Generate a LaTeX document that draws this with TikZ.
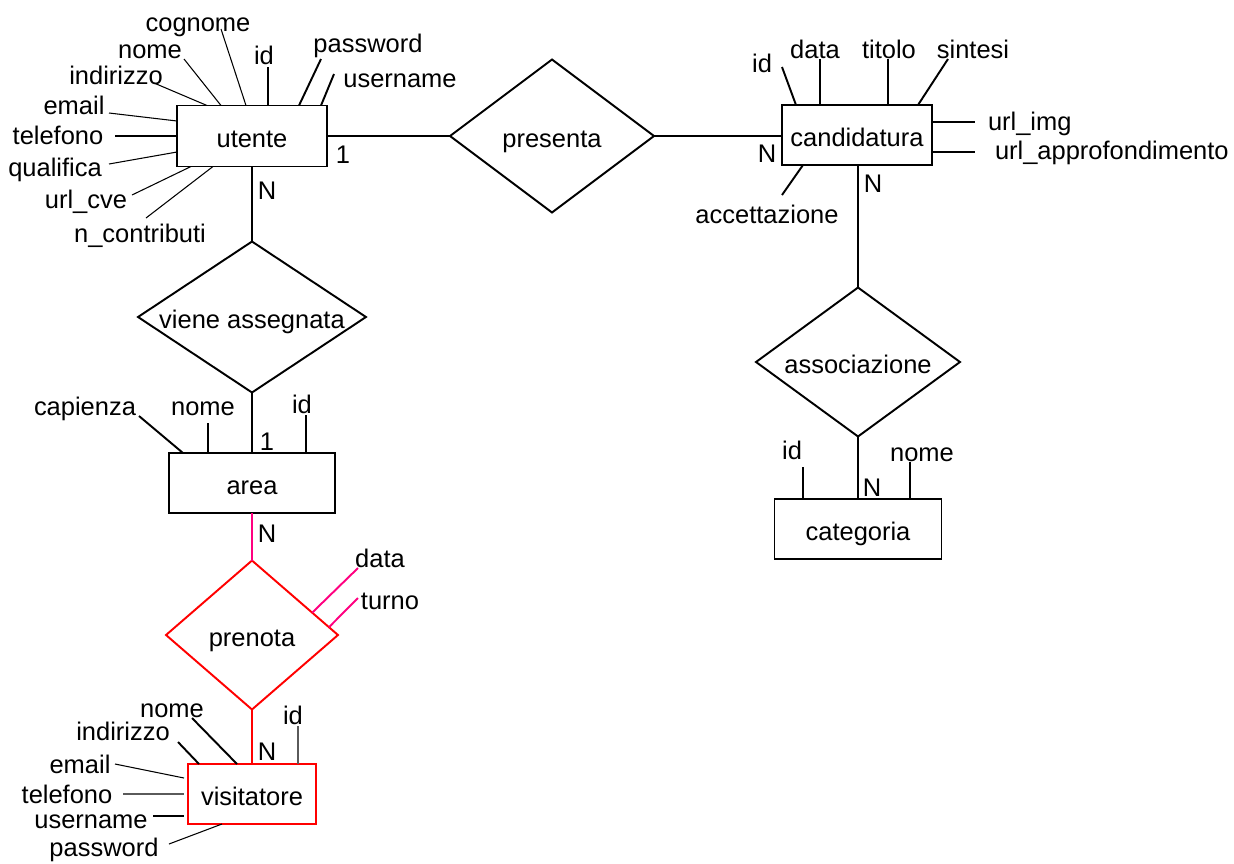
\documentclass[tikz,border=0pt]{standalone}
\usepackage{fontspec}
\setmainfont{Liberation Sans}
\usetikzlibrary{shapes.geometric,calc}
\definecolor{pinkline}{RGB}{255,0,128}
\definecolor{greyline}{RGB}{90,90,90}

\begin{document}
\begin{tikzpicture}[x=0.02cm,y=-0.02cm,
  font=\fontsize{14.5}{17}\selectfont,
  every node/.style={inner sep=0pt,outer sep=0pt,text height=14pt,text depth=1pt},
  entity/.style={draw,line width=1.1pt,rectangle,minimum height=1.2cm},
  relation/.style={draw,line width=1.1pt,diamond,aspect=1.37,minimum width=4.08cm,minimum height=3cm},
  link/.style={line width=1.1pt},
  attr/.style={line width=0.6pt},
  attrb/.style={line width=1.1pt}]
\useasboundingbox (0,0) rectangle (1234,863);

% entita'
\node[entity,minimum width=3cm,minimum height=1.22cm] (utente) at (252,136) {utente};
\node[entity,minimum width=3cm] (candidatura) at (857,135) {candidatura};
\node[entity,minimum width=3.32cm] (area) at (252,483) {area};
\node[entity,minimum width=3.34cm] (categoria) at (858,529) {categoria};
\node[entity,draw=red,line width=1.4pt,minimum width=2.56cm] (visitatore) at (252,794) {visitatore};

% relazioni
\node[relation,minimum height=3.06cm] (presenta) at (552,136) {presenta};
\node[relation,aspect=1.51,minimum width=4.56cm,minimum height=3.02cm] (viene) at (252,317) {viene assegnata};
\node[relation,minimum height=2.98cm] (associazione) at (858,362) {associazione};
\node[relation,draw=red,aspect=1.15,minimum width=3.44cm,minimum height=2.98cm] (prenota) at (252,635) {prenota};

% collegamenti
\draw[link] (utente.east) -- (presenta.west);
\draw[link] (presenta.east) -- (presenta.east -| candidatura.west);
\draw[link] (utente.south) -- (viene.north);
\draw[link] (viene.south) -- (area.north);
\draw[link] (candidatura.south -| associazione.north) -- (associazione.north);
\draw[link] (associazione.south) -- (categoria.north);
\draw[link,pinkline] (area.south) -- (prenota.north);
\draw[link,red,line width=1.4pt] (prenota.south) -- (visitatore.north);

% cardinalita'
\node (card1) at (343,152) {1};
\node (card2) at (767,151) {N};
\node (card3) at (267,188) {N};
\node (card4) at (267,439) {1};
\node (card5) at (873,181) {N};
\node (card6) at (872,485) {N};
\node (card7) at (267,531) {N};
\node (card8) at (267,749) {N};

% attributi utente
\node (u-cognome) at (198,20) {cognome};
\node (u-nome) at (150,47) {nome};
\node (u-indirizzo) at (116,73) {indirizzo};
\node (u-email) at (74,103) {email};
\node (u-telefono) at (58,133) {telefono};
\node (u-qualifica) at (55,165) {qualifica};
\node (u-urlcve) at (86,197) {url\_cve};
\node (u-ncontributi) at (140,231) {n\_contributi};
\node (u-id) at (264,53) {id};
\node (u-password) at (368,41) {password};
\node (u-username) at (400,76) {username};
\draw[attr] (221,29) -- (246,0 |- utente.north);
\draw[attr] (184,59) -- (221,0 |- utente.north);
\draw[attr] (154,83) -- (207,0 |- utente.north);
\draw[attr] (109,113) -- (utente.west |- 0,121);
\draw[attr] (115,136) -- (utente.west |- 0,136);
\draw[attr] (109,164) -- (utente.west |- 0,152);
\draw[attr] (132,195) -- (191,0 |- utente.south);
\draw[attr] (146,218) -- (213,0 |- utente.south);
\draw[attr,line width=0.8pt] (268,67) -- (268,0 |- utente.north);
\draw[attrb] (321,59) -- (299,0 |- utente.north);
\draw[attrb] (334,74) -- (321,0 |- utente.north);

% attributi candidatura
\node (c-id) at (762,61) {id};
\node (c-data) at (815,47) {data};
\node (c-titolo) at (889,47) {titolo};
\node (c-sintesi) at (973,47) {sintesi};
\node[anchor=west] (c-urlimg) at (988,119) {url\_img};
\node[anchor=west] (c-urlapp) at (995,148) {url\_approfondimento};
\node (c-accettazione) at (767,212) {accettazione};
\draw[attrb] (782,67) -- (796,0 |- candidatura.north);
\draw[attrb] (820,59) -- (820,0 |- candidatura.north);
\draw[attrb] (888,59) -- (888,0 |- candidatura.north);
\draw[attrb] (948,59) -- (918,0 |- candidatura.north);
\draw[attrb] (candidatura.east |- 0,122) -- (975,122);
\draw[attrb] (candidatura.east |- 0,152) -- (975,152);
\draw[attrb] (782,195) -- (803,0 |- candidatura.south);

% attributi area
\node (a-capienza) at (85,404) {capienza};
\node (a-nome) at (203,404) {nome};
\node (a-id) at (302,402) {id};
\draw[attrb] (139,416) -- (183,0 |- area.north);
\draw[attrb] (208,423) -- (208,0 |- area.north);
\draw[attrb] (306,415) -- (306,0 |- area.north);

% attributi categoria
\node (k-id) at (792,448) {id};
\node (k-nome) at (922,450) {nome};
\draw[attrb] (803,467) -- (803,0 |- categoria.north);
\draw[attrb] (910,462) -- (910,0 |- categoria.north);

% attributi prenota
\node (p-data) at (380,556) {data};
\node (p-turno) at (390,598) {turno};
\draw[attrb,pinkline] ($(prenota.north)!0.7!(prenota.east)$) -- (358,568);
\draw[attrb,pinkline] ($(prenota.north)!0.895!(prenota.east)$) -- (358,598);

% attributi visitatore
\node (v-nome) at (172,706) {nome};
\node (v-indirizzo) at (123,729) {indirizzo};
\node (v-email) at (80,762) {email};
\node (v-telefono) at (67,792) {telefono};
\node (v-username) at (91,817) {username};
\node (v-password) at (104,845) {password};
\node (v-id) at (293,713) {id};
\draw[attrb] (192,718) -- (237,0 |- visitatore.north);
\draw[attrb] (178,742) -- (199,0 |- visitatore.north);
\draw[attr] (115,764) -- (184,778);
\draw[attr,greyline] (123,794) -- (184,794);
\draw[attr] (153,816) -- (184,816);
\draw[attr] (169,844) -- (222,0 |- visitatore.south);
\draw[attr,greyline] (298,726) -- (298,0 |- visitatore.north);
\end{tikzpicture}
\end{document}
